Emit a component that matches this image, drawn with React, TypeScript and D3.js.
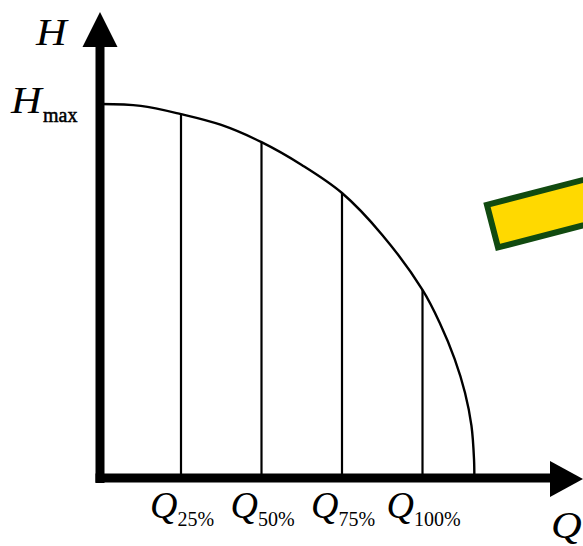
import React from "react";
import * as d3 from "d3";

// Pump curve H(Q): Q in % of nominal flow, H as fraction of Hmax
const curveQ = [0, 12.5, 25, 37.5, 50, 62.5, 75, 87.5, 100, 105.4, 110, 113.2, 115.2, 116, 116.1];
const curveH = [1, 0.995, 0.973, 0.944, 0.898, 0.837, 0.762, 0.65, 0.503, 0.414, 0.318, 0.228, 0.14, 0.05, 0];

// Marked operating points
const markQ = [25, 50, 75, 100];
const markH = [0.973, 0.898, 0.762, 0.503];
const markLabels = ["25%", "50%", "75%", "100%"];

const W = 583;
const H = 546;
const FONT = "'Liberation Serif', 'Times New Roman', serif";

export default function App() {
  const x = d3.scaleLinear().domain([0, 100]).range([100.5, 422.5]);
  const y = d3.scaleLinear().domain([0, 1]).range([478, 104]);

  const pts: [number, number][] = curveQ.map((q, i) => [q, curveH[i]]);
  const line = d3
    .line<[number, number]>()
    .x((d) => x(d[0]))
    .y((d) => y(d[1]))
    .curve(d3.curveCatmullRom.alpha(0.5));

  const x0 = x(0) - 0.5;
  const y0 = y(0);

  return (
    <svg
      width={W}
      height={H}
      style={{ position: "absolute", left: 0, top: 0, background: "#fff" }}
      fontFamily={FONT}
    >
      {/* curve */}
      <path d={line(pts) || ""} fill="none" stroke="#000" strokeWidth={2.4} />

      {/* vertical lines */}
      {markQ.map((q, i) => (
        <line
          key={q}
          x1={x(q)}
          x2={x(q)}
          y1={y0}
          y2={y(markH[i])}
          stroke="#000"
          strokeWidth={2.2}
        />
      ))}

      {/* y axis */}
      <line x1={x0} x2={x0} y1={483} y2={44} stroke="#000" strokeWidth={9} />
      <path d={`M${x0},12 L${x0 + 17.5},47 L${x0 - 17.5},47 Z`} fill="#000" />

      {/* x axis */}
      <line x1={95.5} x2={552} y1={y0} y2={y0} stroke="#000" strokeWidth={9} />
      <path d={`M583,${y0 + 1} L550,${y0 - 17} L550,${y0 + 19} Z`} fill="#000" />

      {/* axis labels */}
      <text x={36} y={45} fontSize={37} fontStyle="italic" transform="translate(36,45) scale(1.15,1) translate(-36,-45)">H</text>
      <text x={551} y={538} fontSize={37} fontStyle="italic" transform="translate(551,538) scale(1.15,1) translate(-551,-538)">Q</text>

      {/* Hmax */}
      <text x={11} y={113} fontSize={37} fontStyle="italic" transform="translate(11,113) scale(1.15,1) translate(-11,-113)">H</text>
      <text x={43} y={122} fontSize={20} stroke="#000" strokeWidth={0.5}>max</text>

      {/* Q labels */}
      {markQ.map((q, i) => (
        <text key={q} x={x(q) + 1} y={518} textAnchor="middle">
          <tspan fontSize={38} fontStyle="italic">Q</tspan>
          <tspan fontSize={20} dy={8}>{markLabels[i]}</tspan>
        </text>
      ))}

      {/* yellow box */}
      <g transform="translate(483.3,202.7) rotate(-14.5)">
        <rect x={3} y={3} width={220} height={44} fill="#FFD900" stroke="#114a10" strokeWidth={6} />
      </g>
    </svg>
  );
}
